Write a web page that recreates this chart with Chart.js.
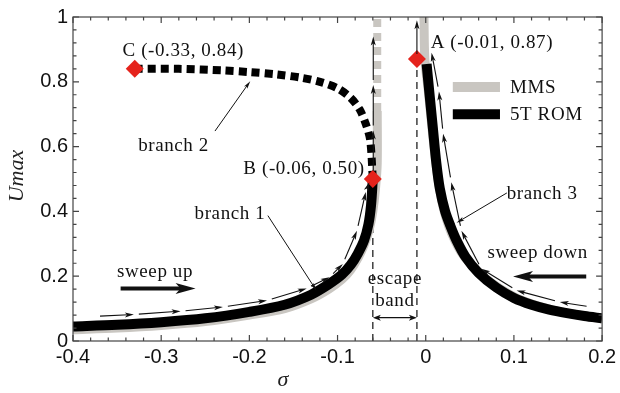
<!DOCTYPE html>
<html><head><meta charset="utf-8">
<script src="https://cdn.jsdelivr.net/npm/chart.js@4/dist/chart.umd.min.js"></script>
<style>html,body{margin:0;padding:0;background:#fff}#wrap{width:620px;height:393px}</style>
</head><body><div id="wrap"><canvas id="c" width="620" height="393"></canvas></div>
<script>
// ---- data ----
const xTickLabels = ['-0.4','-0.3','-0.2','-0.1','0','0.1','0.2'];
const yTickLabels = ['0','0.2','0.4','0.6','0.8','1'];

// 5T ROM
const romB1Sigma = [-0.4,-0.35,-0.3,-0.25,-0.2,-0.16,-0.13,-0.11,-0.095,-0.085,-0.077,-0.07,-0.065,-0.062,-0.06];
const romB1U     = [0.045,0.05,0.058,0.07,0.09,0.112,0.143,0.175,0.205,0.235,0.27,0.31,0.36,0.42,0.50];
const romB2Sigma = [-0.33,-0.28,-0.23,-0.2,-0.17,-0.14,-0.12,-0.1,-0.085,-0.075,-0.068,-0.063,-0.06];
const romB2U     = [0.84,0.84,0.835,0.83,0.823,0.812,0.80,0.78,0.75,0.715,0.67,0.62,0.50];
const romB3Sigma = [0.001,0.004,0.008,0.012,0.016,0.022,0.028,0.035,0.045,0.06,0.08,0.1,0.12,0.14,0.16,0.18,0.2];
const romB3U     = [0.855,0.77,0.66,0.55,0.47,0.40,0.355,0.31,0.26,0.21,0.165,0.133,0.112,0.097,0.086,0.077,0.07];

// MMS
const mmsB1Sigma = [-0.4,-0.35,-0.3,-0.25,-0.2,-0.16,-0.13,-0.11,-0.095,-0.085,-0.077,-0.07,-0.064,-0.06,-0.057,-0.055,-0.055];
const mmsB1U     = [0.035,0.04,0.048,0.06,0.08,0.10,0.13,0.16,0.19,0.22,0.255,0.295,0.345,0.40,0.47,0.55,0.71];
const mmsUnstSigma = [-0.055,-0.055];
const mmsUnstU     = [0.71,1.0];
const mmsB3Sigma = [-0.002,-0.001,0.003,0.007,0.011,0.015,0.02,0.026,0.033,0.04,0.05,0.065,0.085,0.105,0.125,0.145,0.165,0.185,0.2];
const mmsB3U     = [1.0,0.87,0.77,0.66,0.56,0.48,0.41,0.355,0.31,0.275,0.24,0.20,0.16,0.13,0.11,0.095,0.084,0.075,0.068];

// critical points C, B, A
const critSigma = [-0.33,-0.06,-0.01];
const critU     = [0.84,0.50,0.87];
const critText  = ['C (-0.33, 0.84)','B (-0.06, 0.50)','A (-0.01, 0.87)'];

// sweep paths (thin arrows)
const sweepUpSigma = [-0.375,-0.331,-0.278,-0.23,-0.18,-0.135,-0.109,-0.094,-0.078,-0.068,-0.064];
const sweepUpU     = [0.076,0.082,0.092,0.105,0.125,0.162,0.197,0.238,0.34,0.46,0.49];
const jumpUpU      = [0.51,0.65,0.79,0.94];
const sweepDownSigma = [0.188,0.152,0.103,0.063,0.0405,0.029,0.0197,0.015,0.0066];
const sweepDownU     = [0.105,0.12,0.156,0.223,0.34,0.49,0.64,0.77,0.89];
const jumpDownU      = [0.87,0.99];

const escapeSigma = [-0.06,-0.01];
const escapeTop   = [0.50,0.87];

const pts = (xs, ys) => xs.map((v,i)=>({x:v,y:ys[i]}));

const BLACK='#000', GRAY='#c9c6c1', RED='#e5231c';

const ann = {
  id:'ann',
  beforeDatasetsDraw(chart){
    const {ctx, scales:{x,y}} = chart;
    ctx.save();
    ctx.strokeStyle='#222'; ctx.lineWidth=1.3; ctx.setLineDash([7,5]);
    escapeSigma.forEach((s,i)=>{
      ctx.beginPath();
      ctx.moveTo(x.getPixelForValue(s), y.getPixelForValue(0));
      ctx.lineTo(x.getPixelForValue(s), y.getPixelForValue(escapeTop[i]));
      ctx.stroke();
    });
    ctx.restore();
  },
  afterDatasetsDraw(chart){
    const {ctx, chartArea:a, scales:{x,y}} = chart;
    const X = v=>x.getPixelForValue(v), Y = v=>y.getPixelForValue(v);
    ctx.save();
    function head(px,py,ang,len,w,fill){
      ctx.save(); ctx.setLineDash([]);
      ctx.translate(px,py); ctx.rotate(ang);
      ctx.beginPath(); ctx.moveTo(0,0); ctx.lineTo(-len,-w/2); ctx.lineTo(-len*0.75,0); ctx.lineTo(-len,w/2); ctx.closePath();
      ctx.fillStyle=fill||'#111'; ctx.fill(); ctx.restore();
    }
    function arrowSeg(x0,y0,x1,y1,gap,lw,hl,hw){
      const ang=Math.atan2(y1-y0,x1-x0);
      const sx=x0+Math.cos(ang)*gap, sy=y0+Math.sin(ang)*gap;
      ctx.beginPath(); ctx.moveTo(sx,sy); ctx.lineTo(x1-Math.cos(ang)*hl*0.6,y1-Math.sin(ang)*hl*0.6);
      ctx.lineWidth=lw; ctx.strokeStyle='#111'; ctx.stroke();
      head(x1,y1,ang,hl,hw);
    }
    function path(xs,ys){
      for(let i=0;i<xs.length-1;i++) arrowSeg(X(xs[i]),Y(ys[i]),X(xs[i+1]),Y(ys[i+1]),5,1.1,9,5);
    }
    path(sweepUpSigma,sweepUpU);
    path(jumpUpU.map(()=>escapeSigma[0]).map(v=>v+0.0005),jumpUpU);
    path(sweepDownSigma,sweepDownU);
    path(jumpDownU.map(()=>escapeSigma[1]),jumpDownU);

    // pointers
    function pointer(s0,u0,s1,u1){ arrowSeg(X(s0),Y(u0),X(s1),Y(u1),0,1,8,4); }
    pointer(-0.239,0.648,-0.199,0.802);
    pointer(-0.179,0.387,-0.124,0.156);
    pointer(0.092,0.457,0.035,0.365);

    // thick sweep arrows
    arrowSeg(X(-0.346),Y(0.162),X(-0.261),Y(0.162),0,4,20,11);
    arrowSeg(X(0.182),Y(0.199),X(0.099),Y(0.199),0,4,20,11);

    // escape band double arrow
    const ey=Y(0.072);
    ctx.beginPath(); ctx.moveTo(X(escapeSigma[0])+4,ey); ctx.lineTo(X(escapeSigma[1])-4,ey); ctx.lineWidth=1.2; ctx.strokeStyle='#111'; ctx.stroke();
    head(X(escapeSigma[0]),ey,Math.PI,8,6);
    head(X(escapeSigma[1]),ey,0,8,6);

    // texts
    ctx.fillStyle='#111'; ctx.textBaseline='middle';
    ctx.font='19px "Liberation Serif", serif';
    try{ ctx.letterSpacing='0.6px'; }catch(e){}
    function txt(t,s,u,al){ ctx.textAlign=al||'center'; ctx.fillText(t,X(s),Y(u)); }
    txt(critText[0],-0.275,0.894);
    txt(critText[1],-0.138,0.531);
    txt(critText[2],0.075,0.919);
    txt('branch 2',-0.286,0.602);
    txt('branch 1',-0.222,0.393);
    txt('branch 3',0.132,0.454);
    txt('sweep up',-0.307,0.212);
    txt('sweep down',0.127,0.272);
    txt('escape',-0.035,0.19);
    txt('band',-0.035,0.124);

    // legend
    const lg = chart.data.datasets.filter(d=>d.legendRow!==undefined);
    lg.forEach(d=>{
      const yy = Y(d.legendRow);
      ctx.beginPath(); ctx.moveTo(X(0.0307),yy); ctx.lineTo(X(0.0842),yy);
      ctx.setLineDash([]); ctx.lineWidth=10; ctx.strokeStyle=d.borderColor; ctx.stroke();
      ctx.fillStyle='#111'; ctx.textAlign='left'; ctx.fillText(d.label,X(0.0955),yy+1);
    });
    try{ ctx.letterSpacing='0px'; }catch(e){}

    // frame
    ctx.setLineDash([]);
    ctx.strokeStyle='#444'; ctx.lineWidth=1.2;
    ctx.strokeRect(a.left,a.top,a.right-a.left,a.bottom-a.top);
    // ticks inward on all sides
    ctx.lineWidth=1.2;
    for(let i=0;i<=30;i++){
      const v=-0.4+i*0.02, px=X(v), L=(i%5===0)?6:3.5;
      ctx.beginPath(); ctx.moveTo(px,a.bottom); ctx.lineTo(px,a.bottom-L); ctx.moveTo(px,a.top); ctx.lineTo(px,a.top+L); ctx.stroke();
    }
    for(let i=0;i<=25;i++){
      const v=i*0.04, py=Y(v), L=(i%5===0)?6:3.5;
      ctx.beginPath(); ctx.moveTo(a.left,py); ctx.lineTo(a.left+L,py); ctx.moveTo(a.right,py); ctx.lineTo(a.right-L,py); ctx.stroke();
    }

    // axis titles
    ctx.fillStyle='#222';
    ctx.font='italic 22px "Liberation Serif", serif';
    ctx.textAlign='center';
    ctx.fillText('σ',283,380);
    ctx.save(); ctx.translate(17,176); ctx.rotate(-Math.PI/2); ctx.fillText('Umax',0,0); ctx.restore();
    ctx.restore();
  }
};

new Chart(document.getElementById('c'),{
  type:'scatter',
  data:{datasets:[
    {label:'critical points',data:pts(critSigma,critU),pointStyle:'rectRot',pointRadius:9,pointBackgroundColor:RED,pointBorderColor:RED,pointBorderWidth:0,showLine:false,order:0},
    {label:'5T ROM',legendRow:0.70,data:pts(romB1Sigma,romB1U),showLine:true,borderColor:BLACK,borderWidth:10,pointRadius:0,tension:0.3,clip:0,order:1},
    {label:'5T ROM b3',data:pts(romB3Sigma,romB3U),showLine:true,borderColor:BLACK,borderWidth:10,pointRadius:0,tension:0.3,clip:0,order:1},
    {label:'5T ROM b2',data:pts(romB2Sigma,romB2U),showLine:true,borderColor:BLACK,borderWidth:8,borderDash:[8,5],borderCapStyle:'butt',pointRadius:0,tension:0.3,clip:0,order:1},
    {label:'MMS',legendRow:0.784,data:pts(mmsB1Sigma,mmsB1U),showLine:true,borderColor:GRAY,borderWidth:9,pointRadius:0,tension:0.3,clip:0,order:2},
    {label:'MMS b3',data:pts(mmsB3Sigma,mmsB3U),showLine:true,borderColor:GRAY,borderWidth:9,pointRadius:0,tension:0.3,clip:0,order:2},
    {label:'MMS unstable',data:pts(mmsUnstSigma,mmsUnstU),showLine:true,borderColor:GRAY,borderWidth:8,borderDash:[8,6],pointRadius:0,clip:0,order:2}
  ]},
  options:{
    responsive:false,animation:false,
    layout:{padding:{top:16,right:17,left:0,bottom:0}},
    plugins:{legend:{display:false},tooltip:{enabled:false}},
    scales:{
      x:{type:'linear',min:-0.4,max:0.2,
        afterFit(s){s.height=52;},
        afterBuildTicks(s){s.ticks=xTickLabels.map(t=>({value:parseFloat(t)}));},
        ticks:{callback:(v,i)=>xTickLabels[i],padding:4,color:'#111',font:{family:'"Liberation Sans", Arial, sans-serif',size:20},maxRotation:0,autoSkip:false},
        grid:{display:false,drawTicks:false},border:{display:false}},
      y:{type:'linear',min:0,max:1,
        afterFit(s){s.width=73;},
        afterBuildTicks(s){s.ticks=yTickLabels.map(t=>({value:parseFloat(t)}));},
        ticks:{callback:(v,i)=>yTickLabels[i],padding:5,color:'#111',font:{family:'"Liberation Sans", Arial, sans-serif',size:20},autoSkip:false},
        grid:{display:false,drawTicks:false},border:{display:false}}
    }
  },
  plugins:[ann]
});
</script>
</body></html>
